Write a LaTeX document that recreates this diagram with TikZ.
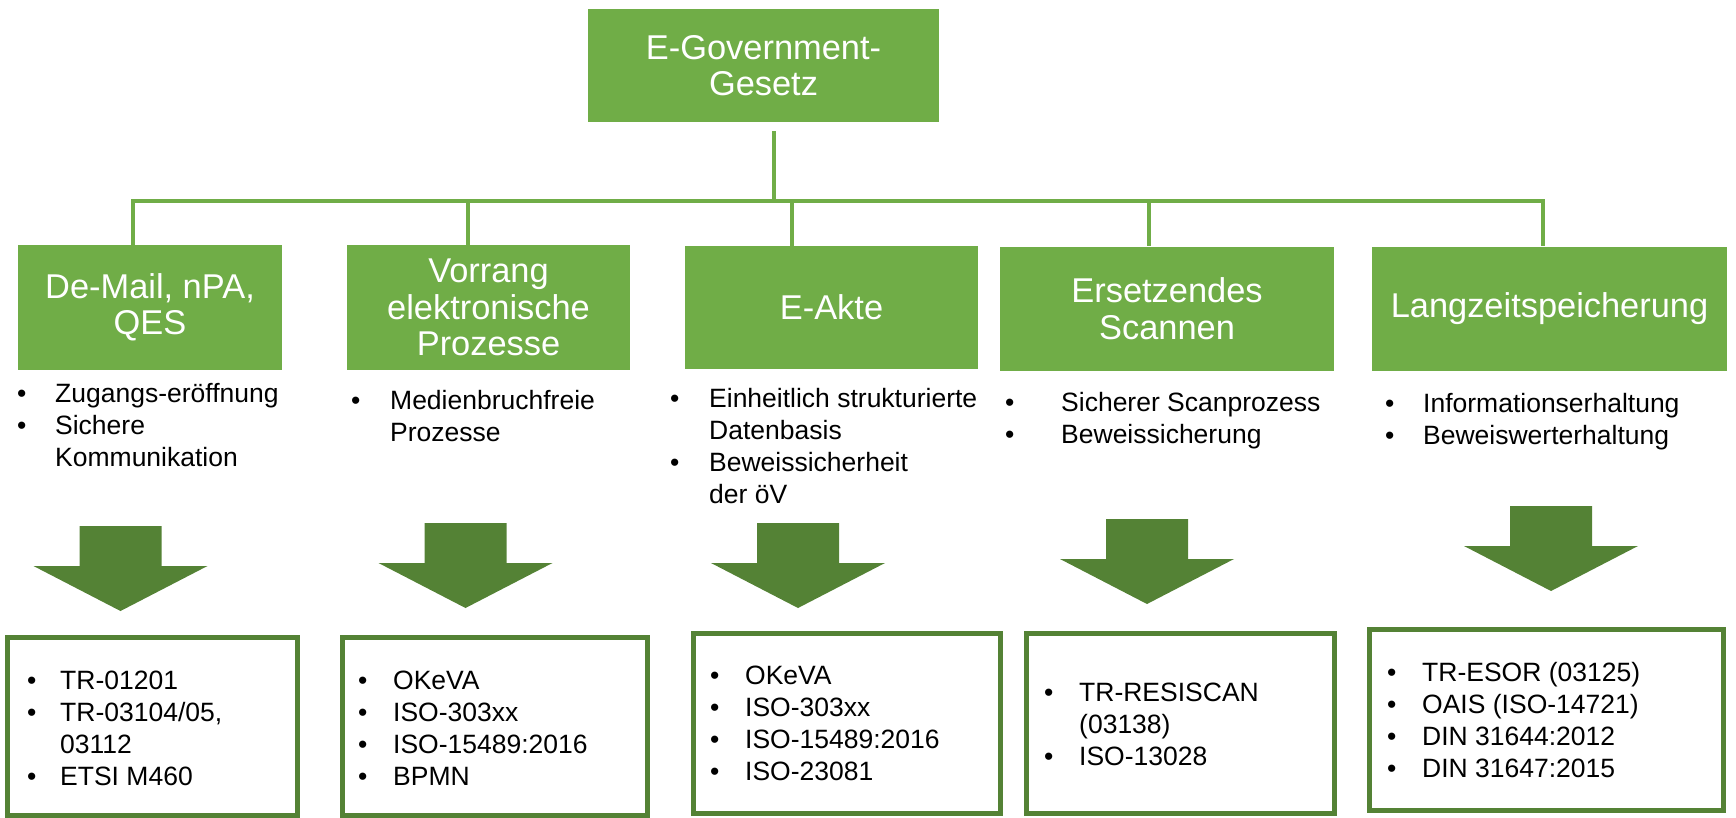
\documentclass[tikz,border=0pt]{standalone}
\usepackage{fontspec}
\setmainfont{Liberation Sans}
\usepackage{array}
\definecolor{boxgreen}{HTML}{70AD47}
\definecolor{darkgreen}{HTML}{548235}
\newcommand\blist[2]{\begin{tabular}[t]{@{}p{#1}@{}l@{}}#2\end{tabular}}
\newcommand\bul{\textbullet}
\begin{document}
\begin{tikzpicture}[x=1pt,y=-1pt,
  greenbox/.style={fill=boxgreen, text=white, align=center, font=\fontsize{34.4}{36.5}\selectfont, inner sep=0pt},
  conn/.style={draw=boxgreen, line width=4pt},
  outbox/.style={draw=darkgreen, line width=5pt, inner sep=0pt},
  blist/.style={anchor=base west, inner sep=0pt, font=\fontsize{26.5}{32}\selectfont, text=black},
  bigarrow/.style={fill=darkgreen}]
\useasboundingbox (0,0) rectangle (1736,817);

% top box
\node[greenbox, minimum width=351pt, minimum height=113pt] (top) at (763.5,65.5) {E-Government-\\Gesetz};

% level-2 boxes
\node[greenbox, minimum width=264pt, minimum height=125pt] (m1) at (150,307.5) {De-Mail, nPA,\\QES};
\node[greenbox, minimum width=283pt, minimum height=125pt] (m2) at (488.5,307.5) {Vorrang\\elektronische\\Prozesse};
\node[greenbox, minimum width=293pt, minimum height=123pt] (m3) at (831.5,307.5) {E-Akte};
\node[greenbox, minimum width=334pt, minimum height=124pt] (m4) at (1167,308.5) {Ersetzendes\\Scannen};
\node[greenbox, minimum width=355pt, minimum height=124pt] (m5) at (1549.5,308.5) {Langzeitspeicherung};

% connector coordinates
\coordinate (hub) at (774,201);
\coordinate (d1) at (133,201);
\coordinate (d2) at (468,201);
\coordinate (d3) at (792,201);
\coordinate (d4) at (1149,201);
\coordinate (d5) at (1543,201);

\draw[conn, shorten <=9pt] (top.south -| hub) -- (hub);
\draw[conn] (m1.north -| d1) -- (d1) -- (d5) -- (m5.north -| d5);
\draw[conn] (d2) -- (m2.north -| d2);
\draw[conn] (d3) -- (m3.north -| d3);
\draw[conn] (d4) -- (m4.north -| d4);

% bullet lists under level-2 boxes
\node[blist] (l1) at (17,402) {\blist{38pt}{\bul & Zugangs-eröffnung\\ \bul & Sichere\\ & Kommunikation}};
\node[blist] (l2) at (351,409) {\blist{39pt}{\bul & Medienbruchfreie\\ & Prozesse}};
\node[blist] (l3) at (670,407) {\blist{39pt}{\bul & Einheitlich strukturierte\\ & Datenbasis\\ \bul & Beweissicherheit\\ & der öV}};
\node[blist] (l4) at (1005,411) {\blist{56pt}{\bul & Sicherer Scanprozess\\ \bul & Beweissicherung}};
\node[blist] (l5) at (1385,412) {\blist{38pt}{\bul & Informationserhaltung\\ \bul & Beweiswerterhaltung}};

% big arrows
\foreach \cx/\ty in {120.5/526, 465.5/523, 798/523, 1147/519, 1551/506}{
  \fill[bigarrow] (\cx,\ty) ++(-41,0) -- ++(82,0) -- ++(0,40) -- ++(46,0)
    -- ++(-87,45) -- ++(-87,-45) -- ++(46,0) -- cycle;
}

% bottom boxes
\node[outbox, minimum width=289.5pt, minimum height=177.5pt] (b1) at (152.25,726.25) {};
\node[outbox, minimum width=305pt, minimum height=177.5pt] (b2) at (494.5,726.25) {};
\node[outbox, minimum width=307pt, minimum height=179.5pt] (b3) at (847,723.25) {};
\node[outbox, minimum width=308pt, minimum height=179.5pt] (b4) at (1180.5,723.25) {};
\node[outbox, minimum width=354pt, minimum height=180.5pt] (b5) at (1546.5,719.75) {};

\node[blist] (t1) at (27,689) {\blist{33pt}{\bul & TR-01201\\ \bul & TR-03104/05,\\ & 03112\\ \bul & ETSI M460}};
\node[blist] (t2) at (358,689) {\blist{35pt}{\bul & OKeVA\\ \bul & ISO-303xx\\ \bul & ISO-15489:2016\\ \bul & BPMN}};
\node[blist] (t3) at (710,684) {\blist{35pt}{\bul & OKeVA\\ \bul & ISO-303xx\\ \bul & ISO-15489:2016\\ \bul & ISO-23081}};
\node[blist] (t4) at (1044,701) {\blist{35pt}{\bul & TR-RESISCAN\\ & (03138)\\ \bul & ISO-13028}};
\node[blist] (t5) at (1387,681) {\blist{35pt}{\bul & TR-ESOR (03125)\\ \bul & OAIS (ISO-14721)\\ \bul & DIN 31644:2012\\ \bul & DIN 31647:2015}};
\end{tikzpicture}
\end{document}
